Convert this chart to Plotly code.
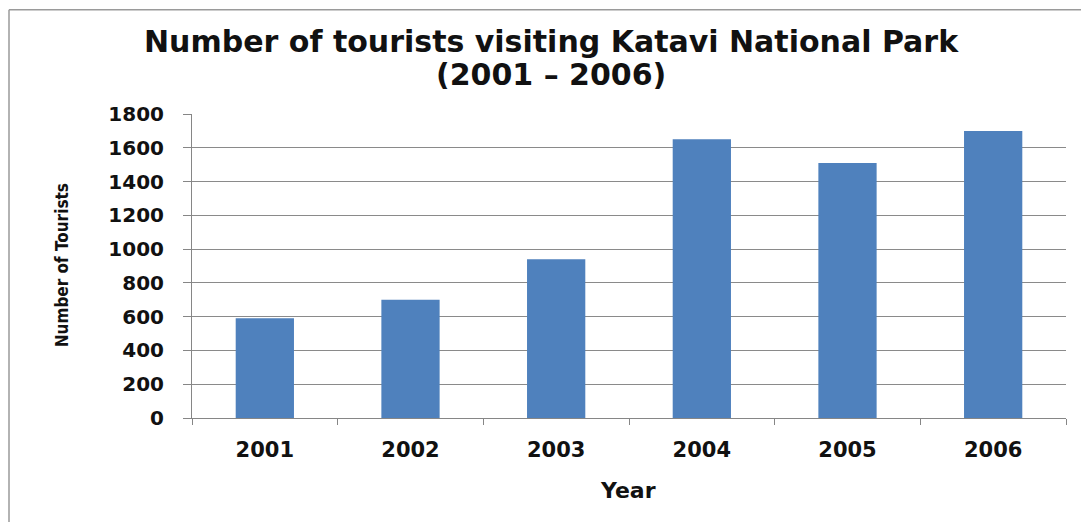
import plotly.graph_objects as go

years = ["2001", "2002", "2003", "2004", "2005", "2006"]
tourists = [590, 700, 940, 1650, 1510, 1700]
y_ticks = [0, 200, 400, 600, 800, 1000, 1200, 1400, 1600, 1800]
title_lines = ["Number of tourists visiting Katavi National Park", "(2001 – 2006)"]

OFF = 8  # page body margin
W, H = 1089 - OFF, 522 - OFF
ML, MT = 192 - OFF, 113.5 - OFF
MR = W - (1066 - OFF)
MB = H - (418 - OFF)
PW = W - ML - MR
PH = H - MT - MB

def px_x(px):
    return (px - OFF - ML) / PW

def px_y(py):
    return (H - MB - (py - OFF)) / PH

fig = go.Figure()
fig.add_trace(go.Bar(
    x=years, y=tourists,
    marker=dict(color="#4F81BD", line=dict(width=0)),
    width=0.4,
))

fig.update_layout(
    width=W, height=H,
    margin=dict(l=ML, r=MR, t=MT, b=MB, pad=0),
    paper_bgcolor="white", plot_bgcolor="white",
    showlegend=False,
    bargap=0.6,
)

for line, ypx in zip(title_lines, [41, 74]):
    fig.add_annotation(
        text=line, xref="paper", yref="paper", x=px_x(551), y=px_y(ypx),
        xanchor="center", yanchor="middle", showarrow=False,
        font=dict(family="DejaVu Sans", size=30, color="#111111", weight="bold"),
    )

fig.update_xaxes(
    type="category",
    showline=True, linecolor="#868686", linewidth=1,
    ticks="outside", ticklen=6, tickcolor="#868686",
    tickson="boundaries",
    showgrid=False,
    tickfont=dict(family="DejaVu Sans", size=21, color="#111111", weight="bold"),
    ticklabelstandoff=13,
)

fig.update_yaxes(
    range=[0, 1800],
    tickvals=y_ticks,
    ticktext=[str(v) for v in y_ticks],
    showline=True, linecolor="#868686", linewidth=1,
    ticks="outside", ticklen=8, tickcolor="#868686",
    showgrid=True, gridcolor="#8a8a8a", gridwidth=1,
    zeroline=False,
    tickfont=dict(family="DejaVu Sans", size=20, color="#111111", weight="bold"),
    ticklabelstandoff=15,
)

fig.add_annotation(
    text="Number of Tourists", xref="paper", yref="paper",
    x=px_x(62), y=px_y(265), xanchor="center", yanchor="middle",
    textangle=-90, showarrow=False,
    font=dict(family="DejaVu Sans Condensed", size=17, color="#111111", weight="bold"),
)
fig.add_annotation(
    text="Year", xref="paper", yref="paper",
    x=px_x(628), y=px_y(491), xanchor="center", yanchor="middle",
    showarrow=False,
    font=dict(family="DejaVu Sans", size=22, color="#111111", weight="bold"),
)

# outer chart border (top and left edges visible)
fig.add_shape(type="line", xref="paper", yref="paper",
              x0=px_x(OFF + 1), x1=px_x(1100), y0=px_y(OFF + 1), y1=px_y(OFF + 1),
              line=dict(color="#9a9a9a", width=1.5))
fig.add_shape(type="line", xref="paper", yref="paper",
              x0=px_x(OFF + 1), x1=px_x(OFF + 1), y0=px_y(OFF + 1), y1=px_y(540),
              line=dict(color="#9a9a9a", width=1.5))

fig.write_html("out.html")
